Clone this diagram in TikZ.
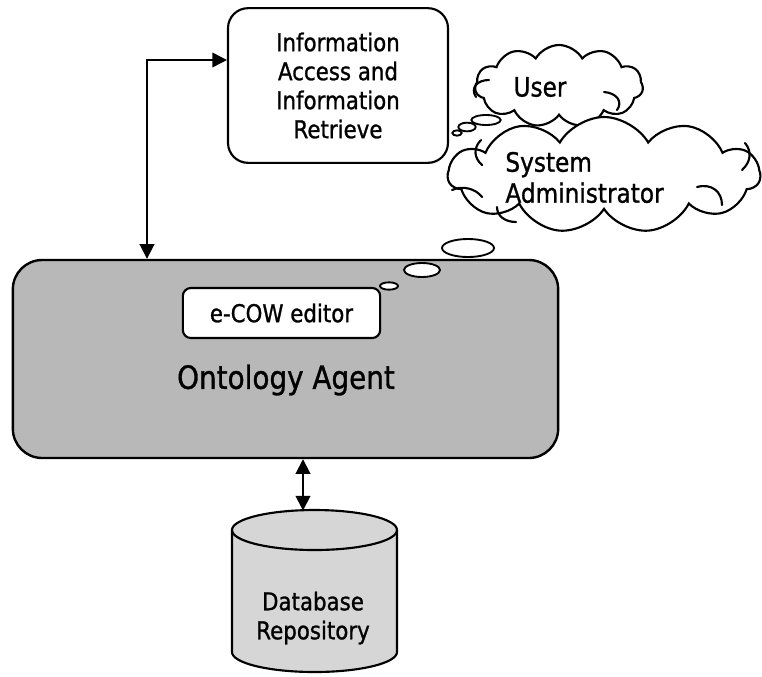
\documentclass[tikz,border=0pt]{standalone}
\usepackage{fontspec}
\setmainfont{DejaVu Sans}[FakeStretch=0.87, FakeBold=1]
\usetikzlibrary{shapes.geometric, shapes.symbols, arrows.meta}
\newcommand\boxfont{\fontsize{18.4pt}{21.75pt}\selectfont}
\newcommand\cloudfont{\fontsize{20pt}{23.25pt}\selectfont}
\newcommand\agentfont{\fontsize{24pt}{28pt}\selectfont}
\tikzstyle{accessbox} = [rectangle, rounded corners=15pt,
minimum width=165pt,
minimum height=116pt,
text centered, align=center,
line width=1.6pt, draw=black, fill=white, font=\boxfont]
\tikzstyle{agentbox} = [rectangle, rounded corners=22pt,
minimum width=409pt,
minimum height=148.5pt,
line width=1.8pt, draw=black, fill=black!28]
\tikzstyle{editorbox} = [rectangle, rounded corners=6pt,
minimum width=148pt,
minimum height=37.5pt,
text centered,
line width=1.6pt, draw=black, fill=white, font=\boxfont]
\tikzstyle{thought} = [cloud, cloud puffs=11, cloud puff arc=120, cloud ignores aspect,
inner sep=0pt, line width=1.6pt, draw=black, fill=white]
\tikzstyle{curl} = [line width=1.6pt, line cap=round]
\tikzstyle{bubble} = [ellipse, inner sep=0pt, line width=1.4pt, draw=black, fill=white]
\tikzstyle{dbwall} = [line width=1.6pt, draw=black, fill=black!16]
\tikzstyle{duplex} = [line width=1.4pt, {Triangle[length=11pt 0,width=11pt 0]}-{Triangle[length=11pt 0,width=11pt 0]}]

\begin{document}
\begin{tikzpicture}[x=0.75pt, y=-0.75pt]
		\useasboundingbox (0,0) rectangle (762,676);
		% agent with its editor
		\node (agent) [agentbox] at (285.5,359) {};
		\node (agentname) [font=\agentfont] at (286,380) {Ontology Agent};
		\node (editor) [editorbox] at (281.5,313) {e-COW editor};
		\node (ab1) [bubble, minimum width=39pt, minimum height=13.5pt] at (468,248) {};
		\node (ab2) [bubble, minimum width=27pt, minimum height=10.5pt] at (422,270) {};
		\node (ab3) [bubble, minimum width=13.5pt, minimum height=5.5pt] at (389,286) {};
		
		% access front end
		\node (access) [accessbox] at (338,85.5) {Information\\Access and\\Information\\Retrieve};
		
		% the two kinds of users
		\node (user) [thought, minimum width=126pt, minimum height=61.5pt] at (559,86) {};
		\draw [curl] (476,97) .. controls (470,88) and (477,80) .. (489,80);
		\draw [curl] (604,92) .. controls (617,93) and (623,102) .. (617,110);
		\node (usertxt) [font=\cloudfont] at (540,87) {User};
		\node (ub1) [bubble, minimum width=22pt, minimum height=7.5pt] at (486,120) {};
		\node (ub2) [bubble, minimum width=13pt, minimum height=6.5pt] at (467,127) {};
		\node (ub3) [bubble, minimum width=7pt, minimum height=4pt] at (457,133) {};
		\node (admin) [thought, minimum width=234pt, minimum height=87pt] at (604,175) {};
		\draw [curl] (452,190) .. controls (463,185) and (476,189) .. (482,197);
		\draw [curl] (481,140) .. controls (473,148) and (474,158) .. (482,165);
		\draw [curl] (497,207) .. controls (497,216) and (505,222) .. (516,222);
		\draw [curl] (742,170) .. controls (751,162) and (752,151) .. (745,143);
		\draw [curl] (697,187) .. controls (712,183) and (722,192) .. (722,205);
		\node (admintxt) [font=\cloudfont, align=left] at (584.5,177.5) {System\\Administrator};
		
		% storage drum
		\path [dbwall] (232,530) -- (232,652) arc (180:0:82.5 and 20) -- (397,530) arc (0:-180:82.5 and 20) -- cycle;
		\draw [line width=1.6pt] (232,530) arc (180:0:82.5 and 20);
		\coordinate (dbtap) at (303,510.5);
		\node (dbtxt) [font=\boxfont, align=center] at (313,618) {Database\\Repository};
		
		\coordinate (hook) at (147,60);
		\draw [duplex] (hook -| access.west) -- (hook) -- (hook |- agent.north);
		\draw [duplex] (agent.south -| dbtap) -- (dbtap);
	\end{tikzpicture}
\end{document}
